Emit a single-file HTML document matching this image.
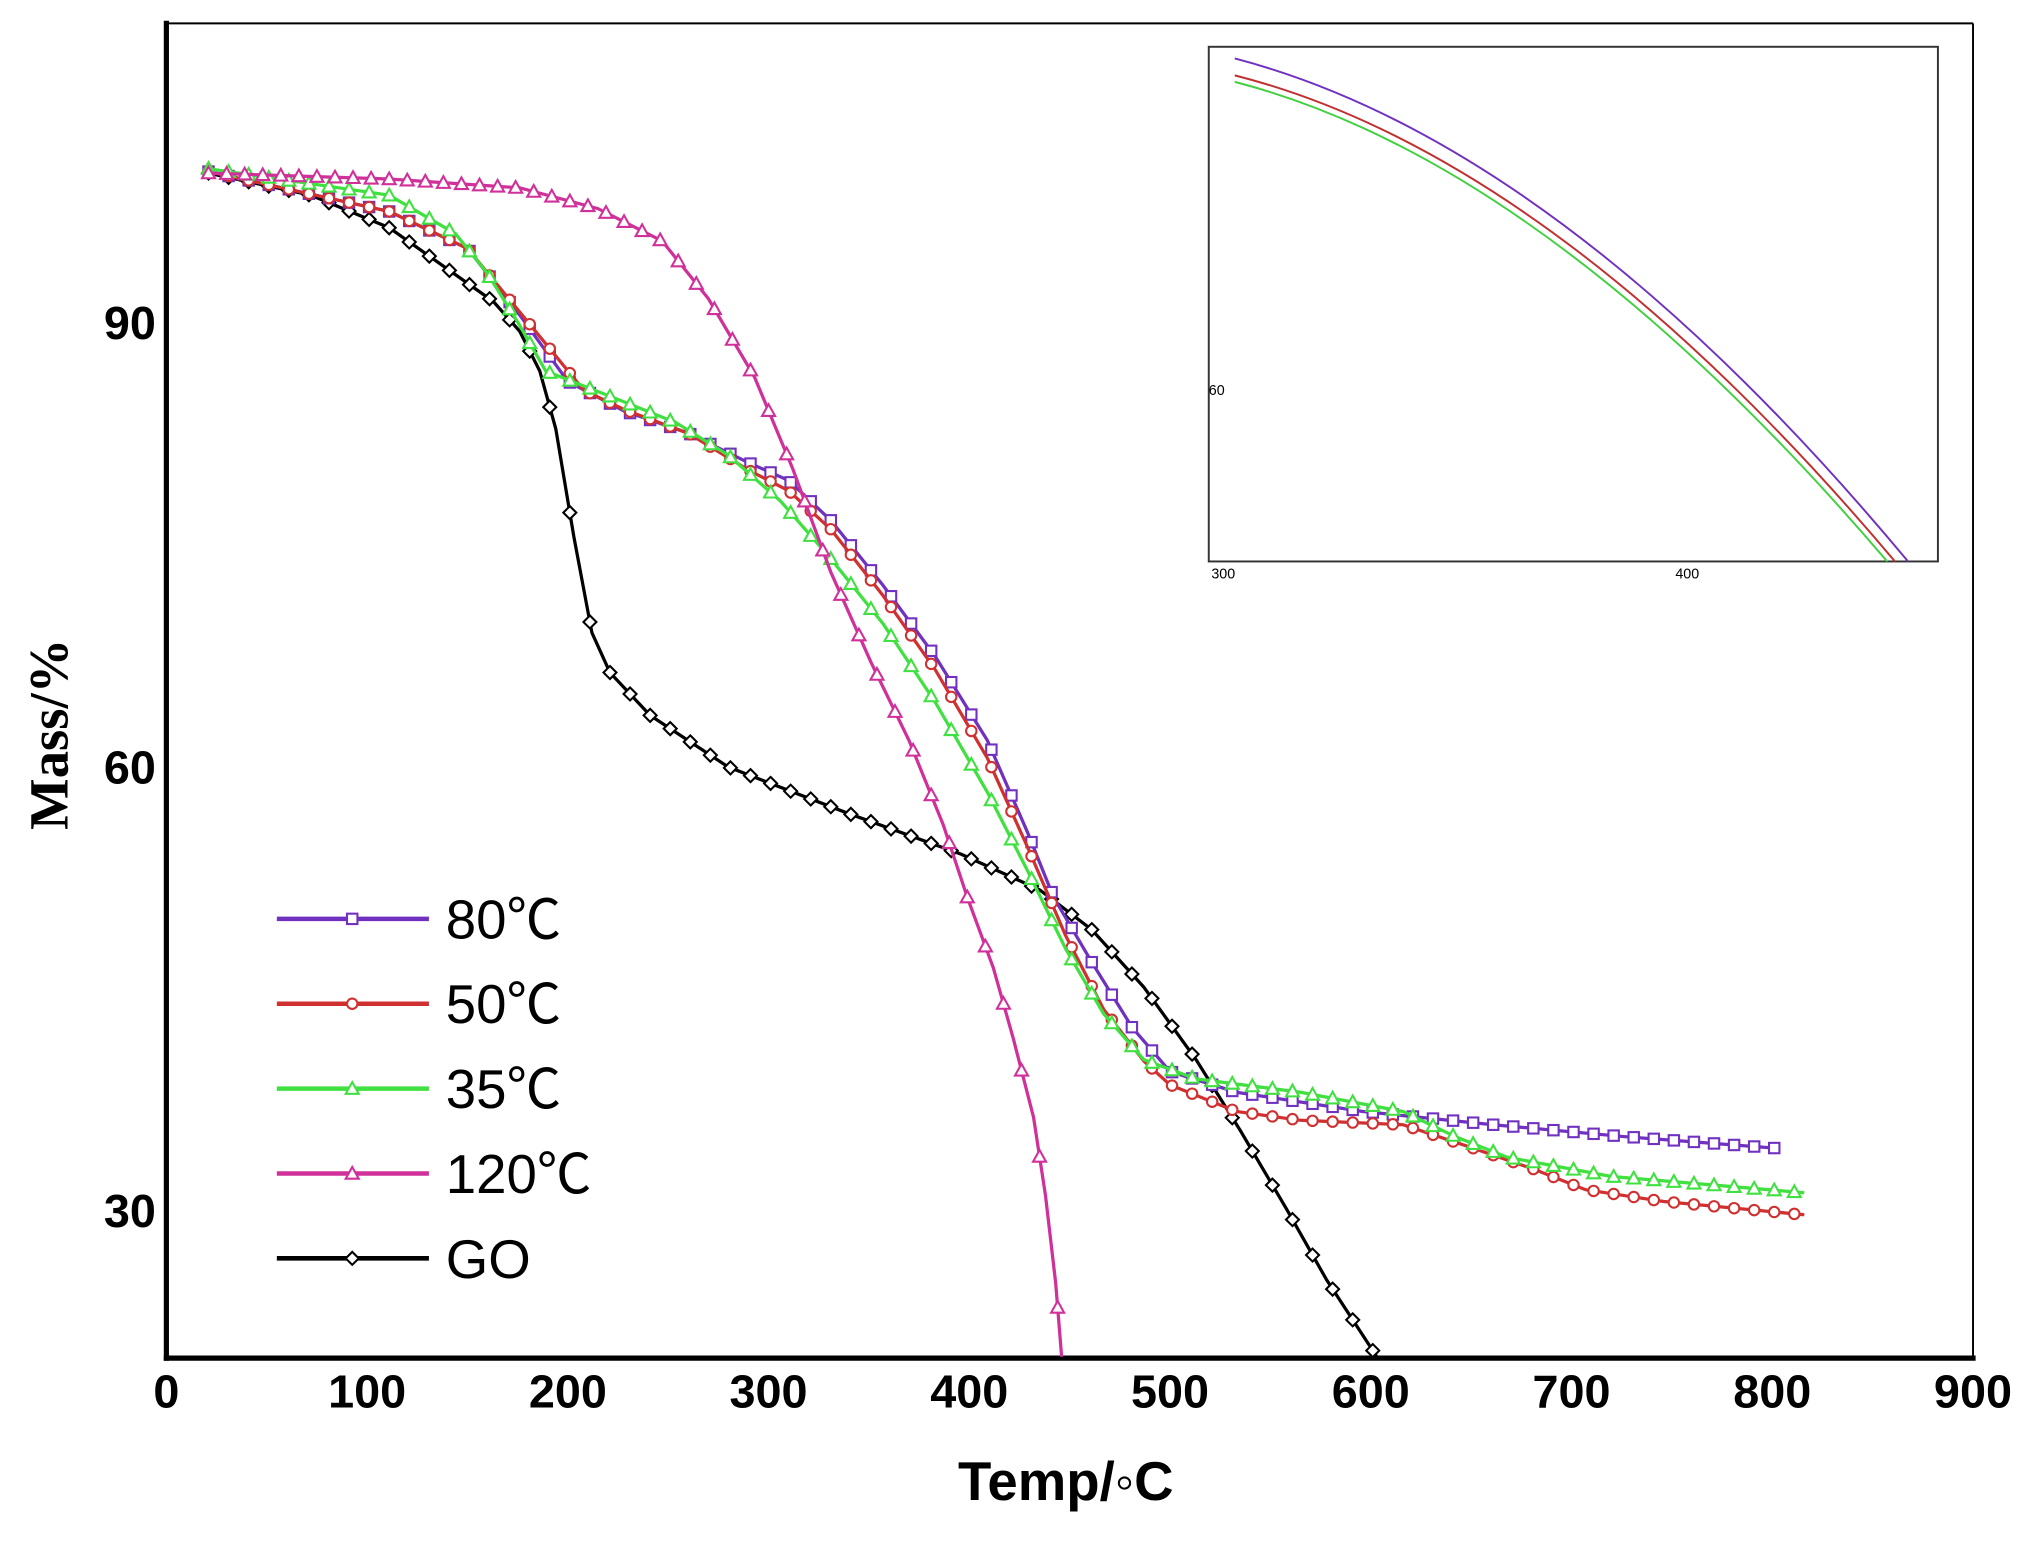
<!DOCTYPE html>
<html><head><meta charset="utf-8"><style>
html,body{margin:0;padding:0;background:#fff}
svg{display:block}
</style></head><body>
<svg id="s" width="2038" height="1544" viewBox="0 0 1568 1188" preserveAspectRatio="none" xmlns="http://www.w3.org/2000/svg">
<rect width="1568" height="1188" fill="#fff"/>
<!-- frame -->
<line x1="128" y1="18" x2="1518" y2="18" stroke="#000" stroke-width="1.5"/>
<line x1="1518" y1="18" x2="1518" y2="1045" stroke="#000" stroke-width="1.5"/>
<line x1="128" y1="16" x2="128" y2="1047" stroke="#000" stroke-width="4"/>
<line x1="126" y1="1045" x2="1520" y2="1045" stroke="#000" stroke-width="4"/>
<g font-family="Liberation Sans, Arial, sans-serif" font-weight="bold" font-size="36" fill="#000" text-anchor="end">
<text x="120" y="261">90</text><text x="120" y="603">60</text><text x="120" y="944">30</text>
</g>
<g id="xt" font-family="Liberation Sans, Arial, sans-serif" font-weight="bold" font-size="36" fill="#000" text-anchor="middle"></g>
<text x="820" y="1154" font-family="Liberation Sans, Arial, sans-serif" font-weight="bold" font-size="42" text-anchor="middle">Temp/◦C</text>
<text transform="translate(52,565) rotate(-90)" font-family="Liberation Serif, serif" font-weight="bold" font-size="42" text-anchor="middle">Mass/%</text>
<g id="series"></g>
<!-- inset -->
<rect x="930" y="36" width="561" height="396" fill="#fff" stroke="#333" stroke-width="1.5"/>
<path d="M950,45 Q1200,110 1468,432" fill="none" stroke="#7030c0" stroke-width="1.5"/>
<path d="M950,58 Q1195,120 1458,432" fill="none" stroke="#c03030" stroke-width="1.5"/>
<path d="M950,63 Q1190,125 1452,432" fill="none" stroke="#40d040" stroke-width="1.5"/>
<g font-family="Liberation Sans, Arial, sans-serif" font-size="11" fill="#000">
<text x="930" y="304">60</text><text x="932" y="445">300</text><text x="1289" y="445">400</text>
</g>
<g id="legend"></g>
</svg>
<script>
var NS="http://www.w3.org/2000/svg";
function X(t){return 128+t*1.5444}
function Y(m){return 248+(90-m)*11.37}
var xt=document.getElementById('xt');
for(var i=0;i<=9;i++){var t=document.createElementNS(NS,'text');t.setAttribute('x',X(i*100));t.setAttribute('y',1083);t.textContent=i*100;xt.appendChild(t);}
var S=[
{c:'#000000',mk:'d',d:[[21,100.1],[72,98.6],[111,96.4],[163,91.4],[176,89.4],[186,86.7],[194,82.8],[203,75.5],[212,69],[221,66.3],[241,63.4],[280,59.9],[339,56.8],[396,54],[435,51.6],[461,48.9],[487,45],[513,40.1],[535,35.3],[558,30],[578,25.2],[603,20]]},
{c:'#7030c0',mk:'s',d:[[21,100.2],[111,97.5],[150,95],[176,90.5],[200,86],[228,84],[260,82.5],[290,80.5],[310,79.3],[331,76.6],[357,72.2],[383,67.4],[409,61.7],[429,55.5],[442,51.1],[461,46.7],[481,42.3],[500,39.3],[533,37.9],[596,36.6],[661,35.7],[726,34.9],[803,34.1]]},
{c:'#d03030',mk:'o',d:[[21,100.2],[111,97.5],[150,95],[176,90.7],[208,85.4],[228,84.1],[260,82.5],[290,80],[310,78.6],[331,76],[357,71.5],[383,66.5],[409,60.5],[429,54.5],[448,48.5],[467,43.5],[487,40],[500,38.4],[533,36.6],[565,36],[616,35.7],[649,34.2],[681,32.7],[707,31.3],[746,30.5],[816,29.6]]},
{c:'#40e040',mk:'t',d:[[21,100.4],[111,98.6],[144,96],[160,93.3],[176,89.8],[189,86.7],[221,85],[254,83.2],[280,81],[306,77.9],[331,74],[357,69.6],[383,64.3],[409,58.2],[429,52.9],[448,47.6],[467,43.2],[487,40.1],[513,38.8],[565,37.9],[616,36.6],[642,34.9],[668,33.5],[720,32.2],[816,31.1]]},
{c:'#d0309a',mk:'t',d:[[21,100.1],[111,99.7],[176,99.1],[215,97.7],[247,95.5],[270,91.6],[293,86.3],[312,80.1],[331,73.1],[351,67],[370,61.7],[387,56],[399,51.1],[412,46.3],[422,41.5],[432,36.2],[438,30.9],[443,25],[446,20]]}
];
function interp(d,t){for(var i=0;i<d.length-1;i++){if(t>=d[i][0]&&t<=d[i+1][0]){var f=(t-d[i][0])/(d[i+1][0]-d[i][0]);return d[i][1]+f*(d[i+1][1]-d[i][1]);}}return null;}
function marker(g,mk,x,y,c,r){var e;r=r||4;
 if(mk=='s'){e=document.createElementNS(NS,'rect');e.setAttribute('x',x-r);e.setAttribute('y',y-r);e.setAttribute('width',2*r);e.setAttribute('height',2*r);}
 else if(mk=='o'){e=document.createElementNS(NS,'circle');e.setAttribute('cx',x);e.setAttribute('cy',y);e.setAttribute('r',r);}
 else if(mk=='d'){e=document.createElementNS(NS,'polygon');e.setAttribute('points',(x)+','+(y-r-1)+' '+(x+r+1)+','+y+' '+x+','+(y+r+1)+' '+(x-r-1)+','+y);}
 else {e=document.createElementNS(NS,'polygon');e.setAttribute('points',x+','+(y-r-1)+' '+(x+r+1)+','+(y+r)+' '+(x-r-1)+','+(y+r));}
 e.setAttribute('fill','#fff');e.setAttribute('stroke',c);e.setAttribute('stroke-width','1.6');g.appendChild(e);}
var G=document.getElementById('series');
S.forEach(function(s){
 var p='';s.d.forEach(function(q,i){p+=(i?'L':'M')+X(q[0]).toFixed(1)+','+Y(q[1]).toFixed(1);});
 var pa=document.createElementNS(NS,'path');pa.setAttribute('d',p);pa.setAttribute('fill','none');pa.setAttribute('stroke',s.c);pa.setAttribute('stroke-width','2.5');G.appendChild(pa);
 var step=s.mk=='t'&&s.c=='#d0309a'?9:10;
 for(var t=s.d[0][0];t<=s.d[s.d.length-1][0];t+=step){var m=interp(s.d,t);if(m==null)continue;marker(G,s.mk,X(t),Y(m),s.c);}
});
var L=document.getElementById('legend');
var lg=[['80℃','#7030c0','s'],['50℃','#d03030','o'],['35℃','#40e040','t'],['120℃','#d0309a','t'],['GO','#000000','d']];
lg.forEach(function(l,i){var y=707+i*65.3;
 var ln=document.createElementNS(NS,'line');ln.setAttribute('x1',213);ln.setAttribute('x2',330);ln.setAttribute('y1',y);ln.setAttribute('y2',y);ln.setAttribute('stroke',l[1]);ln.setAttribute('stroke-width','3.5');L.appendChild(ln);
 marker(L,l[2],271,y,l[1],4);
 var tx=document.createElementNS(NS,'text');tx.setAttribute('x',343);tx.setAttribute('y',y+15);tx.setAttribute('font-family','Liberation Sans, "Noto Sans CJK SC", sans-serif');tx.setAttribute('font-size','42');tx.textContent=l[0];L.appendChild(tx);
});
</script>
</body></html>
